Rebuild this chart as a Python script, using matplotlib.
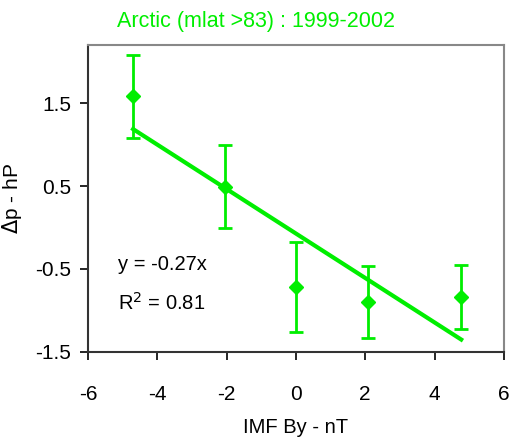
import numpy as np
import matplotlib.pyplot as plt

plt.rcParams['font.family'] = ['Liberation Sans', 'DejaVu Sans']
plt.rcParams['axes.unicode_minus'] = False

# IMF By bins and pressure difference
imf_by = [-4.70, -2.05, 0.0, 2.07, 4.77]
dp = [1.58, 0.49, -0.72, -0.90, -0.84]
dp_err = [0.50, 0.50, 0.54, 0.43, 0.39]

green = '#00ee00'

fig = plt.figure(figsize=(5.12, 4.42), dpi=100)
ax = fig.add_axes([0.172, 0.204, 0.812, 0.694])

# linear fit through the points
slope, icept = np.polyfit(imf_by, dp, 1)
xf = np.array([min(imf_by), max(imf_by)])
ax.plot(xf, slope * xf + icept, color=green, lw=3, zorder=2)

ax.errorbar(imf_by, dp, yerr=dp_err, fmt='D', color=green, ms=7,
            elinewidth=2, capsize=5, capthick=2, zorder=3)

ax.text(-5.15, -0.45, 'y = -0.27x', fontsize=14.5, va='center')
ax.text(-5.15, -0.91, 'R$^2$ = 0.81', fontsize=14.5, va='center')

ax.set_xlim(-6, 6)
ax.set_ylim(-1.5, 2.2)
ax.set_xticks(np.arange(-6, 7, 2))
ax.set_yticks([-1.5, -0.5, 0.5, 1.5])
ax.set_yticklabels(['-1.5', '-0.5', '0.5', '1.5'])
ax.tick_params(labelsize=15, length=6, width=1.2, direction='out')
ax.tick_params(axis='x', pad=18)
ax.tick_params(axis='y', pad=6)

for s in ['top', 'right']:
    ax.spines[s].set_color('#888888')
    ax.spines[s].set_linewidth(1.5)
for s in ['left', 'bottom']:
    ax.spines[s].set_color('#333333')
    ax.spines[s].set_linewidth(1.5)

ax.set_xlabel('IMF By - nT', fontsize=14.5, labelpad=10)
ax.set_ylabel('$\\Delta$p - hP', fontsize=15, labelpad=8)
fig.text(0.5, 0.952, 'Arctic (mlat >83) : 1999-2002', color=green,
         fontsize=15.5, ha='center', va='center')

fig.savefig('out.png', dpi=100)
